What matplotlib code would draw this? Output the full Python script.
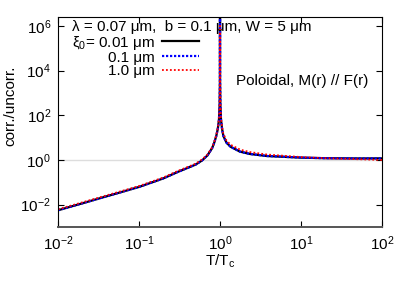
import numpy as np
import matplotlib
matplotlib.use('Agg')
from matplotlib import pyplot as plt

plt.rcParams['font.family'] = ['Liberation Sans', 'DejaVu Sans']
plt.rcParams['mathtext.fontset'] = 'custom'
plt.rcParams['mathtext.rm'] = 'Liberation Sans'
plt.rcParams['mathtext.it'] = 'Liberation Sans'
plt.rcParams['mathtext.default'] = 'regular'
plt.rcParams['font.size'] = 11

# reduced temperature T/Tc
t_ratio = [0.01, 0.02, 0.05, 0.1, 0.2, 0.3, 0.5, 0.6, 0.7, 0.8, 0.85, 0.9, 0.94,
           0.97, 0.99, 0.997, 1.0, 1.003, 1.01, 1.03, 1.06, 1.1, 1.2, 1.35, 1.77,
           2.35, 3.8, 10, 20, 50, 100]

# corr./uncorr. ratio for the three coherence lengths
xi_001 = [0.0056, 0.0115, 0.030, 0.062, 0.15, 0.29, 0.62, 0.95, 1.6, 3.4, 6.0, 12, 25,
          60, 300, 3000, 5e7, 3000, 300, 60, 25, 12, 6.0, 3.9, 2.35,
          1.85, 1.5, 1.27, 1.2, 1.17, 1.18]
xi_01 = [0.0056, 0.0115, 0.030, 0.062, 0.15, 0.29, 0.62, 0.95, 1.6, 3.4, 6.0, 12, 25,
         60, 300, 3000, 5e7, 3000, 300, 60, 25, 12, 6.0, 3.9, 2.35,
         1.85, 1.5, 1.27, 1.2, 1.17, 1.18]
xi_10 = [0.0062, 0.0127, 0.033, 0.068, 0.165, 0.32, 0.68, 1.05, 1.75, 3.7, 6.5, 13, 27,
         65, 320, 3000, 1e6, 3000, 330, 70, 30, 15, 7.5, 4.8, 2.9,
         2.25, 1.75, 1.35, 1.2, 1.08, 1.0]

fig = plt.figure(figsize=(4.07, 2.85), dpi=100)
ax = fig.add_axes([58 / 407, 1 - 227 / 285, 324 / 407, 210 / 285])

ax.axhline(1.0, color='#dddddd', lw=1.0, zorder=0)
ax.plot(t_ratio, xi_001, color='black', lw=1.6, label='ξ$_0$= 0.01 μm')
ax.plot(t_ratio, xi_01, color='blue', lw=1.6, ls=(0, (1, 0.8)), label='0.1 μm')
ax.plot(t_ratio, xi_10, color='red', lw=1.3, ls=(0, (1, 1.2)), label='1.0 μm')

ax.set_xscale('log')
ax.set_yscale('log')
ax.set_xlim(1e-2, 1e2)
ax.set_ylim(1e-3, 2.5e6)
ax.set_xticks([1e-2, 1e-1, 1e0, 1e1, 1e2])
ax.set_yticks([1e-2, 1e0, 1e2, 1e4, 1e6])
ax.minorticks_off()
ax.tick_params(direction='in', length=4, top=True, right=True, labelsize=11, pad=5)

ax.spines['bottom'].set_color('#555555')
ax.spines['bottom'].set_linewidth(1.4)

ax.set_xlabel('T/T$_c$', size=11, labelpad=0)
ax.set_ylabel('corr./uncorr.', size=11)
ax.yaxis.set_label_coords(-0.125, 0.576)

leg = ax.legend(title='λ = 0.07 μm,  b = 0.1 μm, W = 5 μm', loc='upper left',
                bbox_to_anchor=(0.01, 1.035), frameon=False, markerfirst=False,
                alignment='left', fontsize=11, title_fontsize=11,
                handlelength=2.4, handletextpad=0.5, labelspacing=-0.05,
                borderpad=0.2)

ax.text(0.753, 0.695, 'Poloidal, M(r) // F(r)', transform=ax.transAxes,
        ha='center', va='center', size=11)

fig.savefig('out.png', dpi=100)
